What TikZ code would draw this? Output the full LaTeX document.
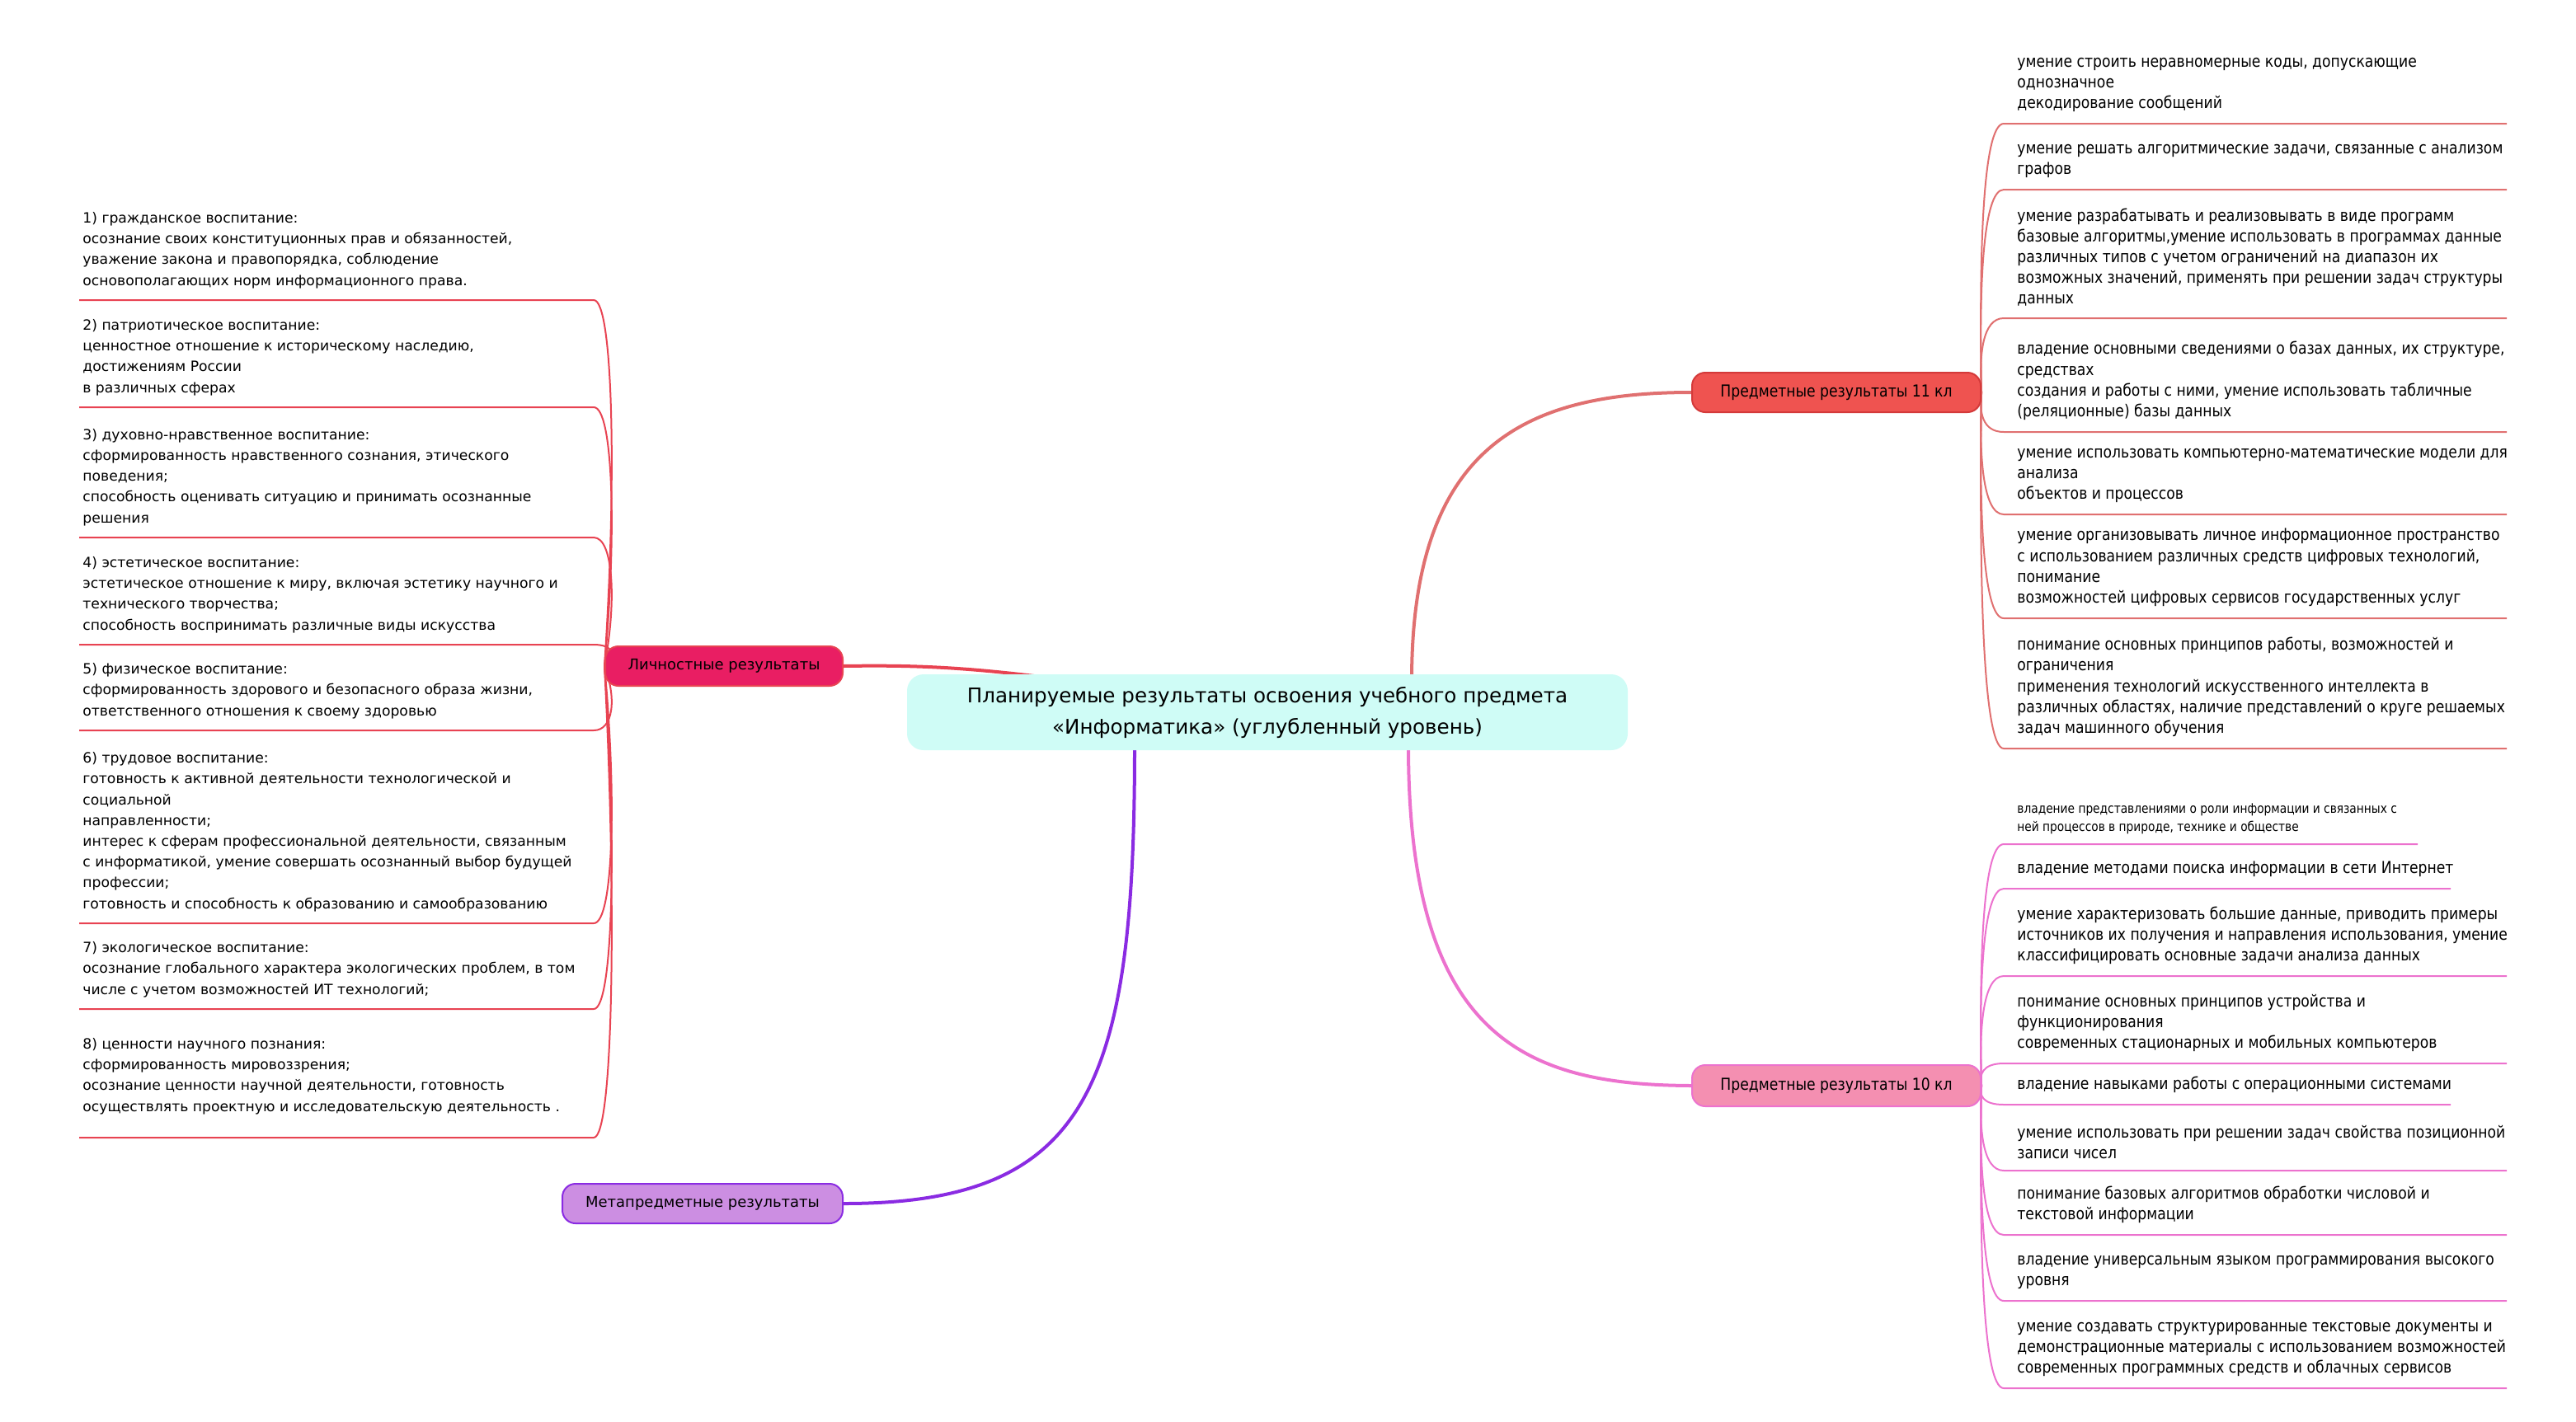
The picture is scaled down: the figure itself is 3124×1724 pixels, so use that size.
\documentclass[tikz,border=0pt]{standalone}
\usepackage{fontspec}
\setmainfont{DejaVu Sans}
\newfontfamily\cond[FakeStretch=0.86]{DejaVu Sans}
\usetikzlibrary{backgrounds}
\definecolor{cbg}{HTML}{CFFCF6}
\definecolor{lfill}{HTML}{E91E63}\definecolor{lline}{HTML}{E84352}
\definecolor{mfill}{HTML}{CC8EE2}\definecolor{mline}{HTML}{8A2BE2}
\definecolor{afill}{HTML}{EF5350}\definecolor{aline}{HTML}{E07070}\definecolor{adraw}{HTML}{D43A3A}
\definecolor{bfill}{HTML}{F48FB1}\definecolor{bline}{HTML}{EC72CE}
\tikzset{
 hub/.style={rounded corners=8pt,minimum height=24pt,inner sep=0pt,line width=1pt},
 lleaf/.style={anchor=south west,align=left,inner sep=0pt,font=\fontsize{8.6}{12.6}\selectfont},
 rleaf/.style={anchor=south west,align=left,inner sep=0pt,font=\cond\fontsize{10}{12.6}\selectfont},
}
\begin{document}
\begin{tikzpicture}[x=0.5pt,y=-0.5pt]
\useasboundingbox (0,0) rectangle (3124,1724);
\node[fill=cbg,rounded corners=10pt,minimum width=437pt,minimum height=46pt,align=center,font=\fontsize{12.3}{19}\selectfont] (c) at (1537,864) {Планируемые результаты освоения учебного предмета\\«Информатика» (углубленный уровень)};
\node[hub,fill=lfill,draw=lline,minimum width=144pt,font=\fontsize{9}{11}\selectfont] (l) at (878,808) {Личностные результаты};
\node[hub,fill=mfill,draw=mline,minimum width=170pt,font=\fontsize{9}{11}\selectfont] (m) at (852,1460) {Метапредметные результаты};
\node[hub,fill=afill,draw=adraw,minimum width=175pt,font=\cond\fontsize{10}{12}\selectfont] (a) at (2227,476) {Предметные результаты 11 кл};
\node[hub,fill=bfill,draw=bline,minimum width=175pt,minimum height=25pt,font=\cond\fontsize{10}{12}\selectfont] (b) at (2227,1317) {Предметные результаты 10 кл};
\coordinate (cm) at (1376,905);
\coordinate (ca) at (1712,825);
\coordinate (cb) at (1708,905);
\begin{pgfonlayer}{background}
\draw[lline,line width=2pt] (l.east) .. controls (1150,806) and (1240,812) .. (c.center);
\draw[mline,line width=2pt] (m.east) .. controls (1320,1460) and (1376,1320) .. (cm);
\draw[aline,line width=2pt] (ca) .. controls (1712,540) and (1850,476) .. (a.west);
\draw[bline,line width=2pt] (cb) .. controls (1708,1260) and (1850,1316) .. (b.west);
% left leaves
\foreach \y in {364,494,652,782,886,1120,1224,1380}{
 \pgfmathsetmacro\my{(\y+808)/2}
 \draw[lline,line width=1pt] (96,\y) -- (720,\y) .. controls (744,\y) and (748,\my) .. (l.west);
}
% 11 leaves
\foreach \y in {150,230,386,524,624,750,908}{
 \pgfmathsetmacro\my{(\y+476)/2}
 \draw[aline,line width=1pt] (a.east) .. controls (2400,\my) and (2404,\y) .. (2430,\y) -- (3040,\y);
}
% 10 leaves
\foreach \y/\e in {1024/2932,1078/2972,1184/3040,1290/3040,1340/2972,1420/3040,1498/3040,1578/3040,1684/3040}{
 \pgfmathsetmacro\my{(\y+1317)/2}
 \draw[bline,line width=1pt] (b.east) .. controls (2400,\my) and (2404,\y) .. (2430,\y) -- (\e,\y);
}
\end{pgfonlayer}
% left texts
\node[lleaf] (l1) at (100,350) {1) гражданское воспитание:\\осознание своих конституционных прав и обязанностей,\\уважение закона и правопорядка, соблюдение\\основополагающих норм информационного права.};
\node[lleaf] (l2) at (100,480) {2) патриотическое воспитание:\\ценностное отношение к историческому наследию,\\достижениям России\\в различных сферах};
\node[lleaf] (l3) at (100,638) {3) духовно-нравственное воспитание:\\сформированность нравственного сознания, этического\\поведения;\\способность оценивать ситуацию и принимать осознанные\\решения};
\node[lleaf] (l4) at (100,768) {4) эстетическое воспитание:\\эстетическое отношение к миру, включая эстетику научного и\\технического творчества;\\способность воспринимать различные виды искусства};
\node[lleaf] (l5) at (100,872) {5) физическое воспитание:\\сформированность здорового и безопасного образа жизни,\\ответственного отношения к своему здоровью};
\node[lleaf] (l6) at (100,1106) {6) трудовое воспитание:\\готовность к активной деятельности технологической и\\социальной\\направленности;\\интерес к сферам профессиональной деятельности, связанным\\с информатикой, умение совершать осознанный выбор будущей\\профессии;\\готовность и способность к образованию и самообразованию};
\node[lleaf] (l7) at (100,1210) {7) экологическое воспитание:\\осознание глобального характера экологических проблем, в том\\числе с учетом возможностей ИТ технологий;};
\node[lleaf] (l8) at (100,1352) {8) ценности научного познания:\\сформированность мировоззрения;\\осознание ценности научной деятельности, готовность\\осуществлять проектную и исследовательскую деятельность .};
% 11 texts
\node[rleaf] (a1) at (2446,136) {умение строить неравномерные коды, допускающие\\однозначное\\декодирование сообщений};
\node[rleaf] (a2) at (2446,216) {умение решать алгоритмические задачи, связанные с анализом\\графов};
\node[rleaf] (a3) at (2446,372) {умение разрабатывать и реализовывать в виде программ\\базовые алгоритмы,умение использовать в программах данные\\различных типов с учетом ограничений на диапазон их\\возможных значений, применять при решении задач структуры\\данных};
\node[rleaf] (a4) at (2446,510) {владение основными сведениями о базах данных, их структуре,\\средствах\\создания и работы с ними, умение использовать табличные\\(реляционные) базы данных};
\node[rleaf] (a5) at (2446,610) {умение использовать компьютерно-математические модели для\\анализа\\объектов и процессов};
\node[rleaf] (a6) at (2446,736) {умение организовывать личное информационное пространство\\с использованием различных средств цифровых технологий,\\понимание\\возможностей цифровых сервисов государственных услуг};
\node[rleaf] (a7) at (2446,894) {понимание основных принципов работы, возможностей и\\ограничения\\применения технологий искусственного интеллекта в\\различных областях, наличие представлений о круге решаемых\\задач машинного обучения};
% 10 texts
\node[rleaf,font=\cond\fontsize{8}{11}\selectfont] (b1) at (2446,1012) {владение представлениями о роли информации и связанных с\\ней процессов в природе, технике и обществе};
\node[rleaf] (b2) at (2446,1064) {владение методами поиска информации в сети Интернет};
\node[rleaf] (b3) at (2446,1170) {умение характеризовать большие данные, приводить примеры\\источников их получения и направления использования, умение\\классифицировать основные задачи анализа данных};
\node[rleaf] (b4) at (2446,1276) {понимание основных принципов устройства и\\функционирования\\современных стационарных и мобильных компьютеров};
\node[rleaf] (b5) at (2446,1326) {владение навыками работы с операционными системами};
\node[rleaf] (b6) at (2446,1406) {умение использовать при решении задач свойства позиционной\\записи чисел};
\node[rleaf] (b7) at (2446,1484) {понимание базовых алгоритмов обработки числовой и\\текстовой информации};
\node[rleaf] (b8) at (2446,1564) {владение универсальным языком программирования высокого\\уровня};
\node[rleaf] (b9) at (2446,1670) {умение создавать структурированные текстовые документы и\\демонстрационные материалы с использованием возможностей\\современных программных средств и облачных сервисов};
\end{tikzpicture}
\end{document}
